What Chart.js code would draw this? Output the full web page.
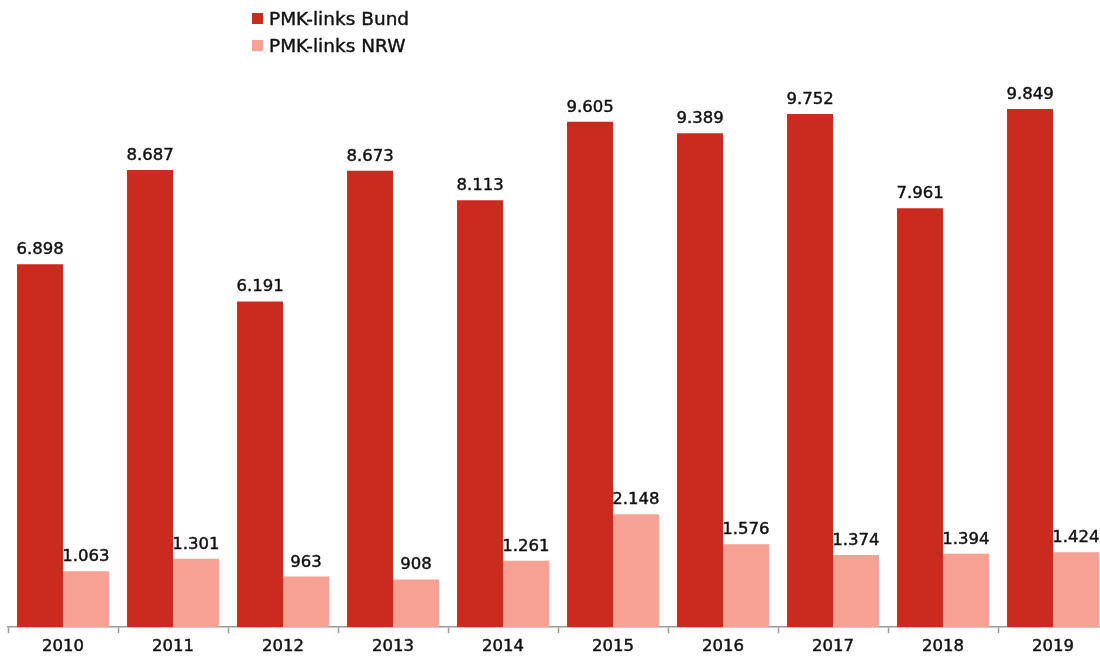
<!DOCTYPE html>
<html lang="de">
<head>
<meta charset="utf-8">
<title>PMK-links Bund / NRW</title>
<script src="https://cdn.jsdelivr.net/npm/chart.js@4"></script>
<style>
    html, body { margin: 0; padding: 0; background: #fff; overflow: hidden; }
    #wrap { position: relative; width: 1100px; height: 656px; overflow: hidden; }
    #chart { position: absolute; left: 0; top: 0; }
    #legend { position: absolute; left: 252px; top: 5px; font-family: 'DejaVu Sans', sans-serif; font-size: 18.5px; color: #111; -webkit-text-stroke: 0.4px #111; }
    .legend-row { display: flex; align-items: center; height: 27px; }
    .legend-box { width: 11px; height: 11px; margin-right: 6px; }
</style>
</head>
<body>
<div id="wrap">
    <canvas id="chart" width="1110" height="663"></canvas>
    <div id="legend"></div>
</div>
<script>
const years = ['2010', '2011', '2012', '2013', '2014', '2015', '2016', '2017', '2018', '2019'];
const bundValues = [6898, 8687, 6191, 8673, 8113, 9605, 9389, 9752, 7961, 9849];
const nrwValues = [1063, 1301, 963, 908, 1261, 2148, 1576, 1374, 1394, 1424];

const colors = {
    bund: '#cb2b1f',
    nrw: '#f6a193',
    axis: '#9a9a9a',
    text: '#111111'
};

const fontFamily = "'DejaVu Sans', sans-serif";

// German thousands separator: 6898 -> 6.898
function formatNumber(value) {
    return String(value).replace(/\B(?=(\d{3})+(?!\d))/g, '.');
}

// slightly heavier text than the regular DejaVu weight
function drawText(ctx, text, x, y) {
    ctx.fillText(text, x, y);
    ctx.strokeText(text, x, y);
}

const valueLabels = {
    id: 'valueLabels',
    afterDatasetsDraw(chart) {
        const ctx = chart.ctx;
        ctx.save();
        ctx.font = `16.5px ${fontFamily}`;
        ctx.fillStyle = colors.text;
        ctx.strokeStyle = colors.text;
        ctx.lineWidth = 0.45;
        ctx.textAlign = 'center';
        ctx.textBaseline = 'bottom';
        chart.data.datasets.forEach((dataset, i) => {
            chart.getDatasetMeta(i).data.forEach((bar, j) => {
                drawText(ctx, formatNumber(dataset.data[j]), bar.x, bar.y - 6);
            });
        });
        ctx.restore();
    }
};

const chart = new Chart(document.getElementById('chart'), {
    type: 'bar',
    data: {
        labels: years,
        datasets: [
            {
                label: 'PMK-links Bund',
                data: bundValues,
                backgroundColor: colors.bund,
                categoryPercentage: 0.836,
                barPercentage: 1
            },
            {
                label: 'PMK-links NRW',
                data: nrwValues,
                backgroundColor: colors.nrw,
                categoryPercentage: 0.836,
                barPercentage: 1
            }
        ]
    },
    options: {
        responsive: false,
        animation: false,
        layout: {
            padding: { left: 8, right: 2, top: 101, bottom: 2 }
        },
        plugins: {
            legend: { display: false },
            tooltip: { enabled: false }
        },
        scales: {
            x: {
                grid: {
                    drawOnChartArea: false,
                    color: colors.axis,
                    tickLength: 6,
                    tickWidth: 1.5
                },
                border: { color: colors.axis, width: 1.5 },
                ticks: {
                    color: colors.text,
                    padding: 4,
                    font: { family: fontFamily, size: 16.5 },
                    textStrokeColor: colors.text,
                    textStrokeWidth: 0.45
                }
            },
            y: {
                display: false,
                min: 0,
                max: 10000
            }
        }
    },
    plugins: [valueLabels]
});

// legend stacked vertically, built from the chart's own datasets
document.getElementById('legend').innerHTML = chart.data.datasets.map((ds) => `
    <div class="legend-row">
        <span class="legend-box" style="background:${ds.backgroundColor}"></span>
        <span>${ds.label}</span>
    </div>
`).join('');
</script>
</body>
</html>
